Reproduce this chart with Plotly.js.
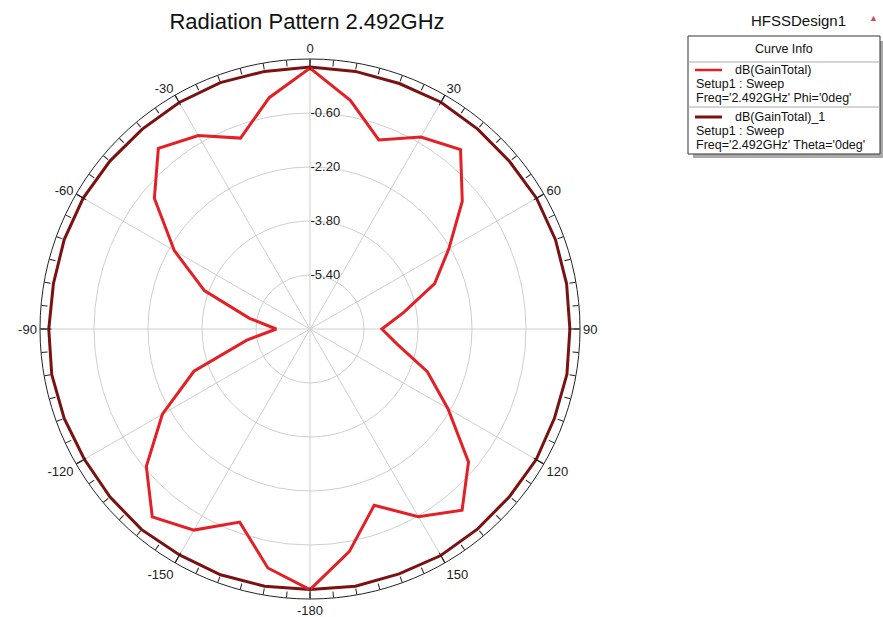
<!DOCTYPE html>
<html>
<head>
<meta charset="utf-8">
<script src="https://cdn.plot.ly/plotly-3.0.1.min.js"></script>
<style>
  html, body { margin: 0; padding: 0; background: #ffffff; }
  #chart { width: 883px; height: 617px; }
</style>
</head>
<body>
<div id="chart"></div>
<script>
// ---- data ----
const thetaDeg = [-180,-170,-160,-150,-140,-130,-120,-110,-100,-90,-80,-70,-60,-50,-40,-30,-20,-10,
                  0,10,20,30,40,50,60,70,80,90,100,110,120,130,140,150,160,170,180];
// dB(GainTotal), Phi = 0deg
const gainPhi0 = [0.72,0.19,-0.91,-0.12,0.27,-0.67,-1.95,-3.34,-5.10,-6.00,-5.18,-3.67,-2.36,-0.98,-0.01,-0.38,-0.98,-0.04,
                  0.73,-0.12,-1.04,-0.43,-0.06,-1.11,-2.25,-3.07,-4.18,-4.87,-4.37,-3.30,-2.28,-0.87,0.01,-0.58,-1.44,-0.30,0.72];
// dB(GainTotal)_1, Theta = 0deg
const gainTheta0 = [0.72,0.74,0.75,0.73,0.76,0.74,0.72,0.75,0.77,0.74,0.72,0.75,0.76,0.74,0.73,0.75,0.77,0.75,
                    0.76,0.75,0.74,0.76,0.73,0.72,0.75,0.74,0.72,0.70,0.73,0.71,0.74,0.72,0.73,0.75,0.72,0.74,0.72];
const angTickVals = [0,30,60,90,120,150,180,210,240,270,300,330];
const angTickText = ['0','30','60','90','120','150','-180','-150','-120','-90','-60','-30'];
const radTickVals = [-5.4,-3.8,-2.2,-0.6];
const radTickText = ['-5.40','-3.80','-2.20','-0.60'];
const radRange = [-7, 1];
const minorTickVals = [];
for (let a = 0; a < 360; a += 5) minorTickVals.push(a);

const W = 883, H = 617;
const px = x => x / W;
const py = y => 1 - y / H;
const FONT = 'Liberation Sans, Arial, sans-serif';

const RED = 'rgb(226,32,38)';
const DARK = 'rgb(122,18,18)';

const traces = [
  { type: 'scatterpolar', subplot: 'polar', mode: 'lines', name: 'dB(GainTotal)_1',
    r: gainTheta0, theta: thetaDeg, line: { color: DARK, width: 3 }, hoverinfo: 'skip' },
  { type: 'scatterpolar', subplot: 'polar', mode: 'lines', name: 'dB(GainTotal)',
    r: gainPhi0, theta: thetaDeg, line: { color: RED, width: 3 }, hoverinfo: 'skip' },
  { type: 'scatterpolar', subplot: 'polar2', mode: 'lines', r: [], theta: [],
    showlegend: false, hoverinfo: 'skip' }
];

const dom = { x: [px(40), px(580)], y: [py(599), py(59)] };

const LF = { family: FONT, size: 12.5, color: '#111' };
function legText(text, x, y, anchor) {
  return { text: text, xref: 'paper', yref: 'paper', x: px(x), y: py(y), xanchor: anchor || 'left',
           yanchor: 'middle', showarrow: false, font: LF };
}

const layout = {
  width: W, height: H,
  margin: { l: 0, r: 0, t: 0, b: 0 },
  paper_bgcolor: '#ffffff',
  showlegend: false,
  font: { family: FONT, size: 12, color: '#222' },
  title: { text: 'Radiation Pattern 2.492GHz', x: px(307), xanchor: 'center', y: py(21), yanchor: 'middle',
           font: { family: FONT, size: 22, color: '#111' } },
  polar: {
    domain: dom,
    bgcolor: 'rgba(0,0,0,0)',
    angularaxis: {
      rotation: 90, direction: 'clockwise',
      tickmode: 'array', tickvals: angTickVals, ticktext: angTickText,
      ticks: 'inside', ticklen: 11, tickcolor: '#222', tickwidth: 1,
      showline: true, linecolor: '#222', linewidth: 1,
      gridcolor: '#cfcfcf', gridwidth: 1,
      tickfont: { family: FONT, size: 13, color: '#222' }
    },
    radialaxis: {
      range: radRange, angle: 90, tickangle: 90, side: 'clockwise',
      tickmode: 'array', tickvals: radTickVals, ticktext: radTickText,
      showline: false, ticks: '', gridcolor: '#cfcfcf', gridwidth: 1,
      tickfont: { family: FONT, size: 13, color: '#222' }
    }
  },
  polar2: {
    domain: dom,
    bgcolor: 'rgba(0,0,0,0)',
    angularaxis: {
      rotation: 90, direction: 'clockwise',
      tickmode: 'array', tickvals: minorTickVals, showticklabels: false,
      ticks: 'inside', ticklen: 6, tickcolor: '#222', tickwidth: 1,
      showline: false, showgrid: false
    },
    radialaxis: { range: radRange, visible: false, showgrid: false }
  },
  shapes: [
    // legend shadow
    { type: 'rect', xref: 'paper', yref: 'paper', x0: px(693), x1: px(884), y0: py(41), y1: py(158),
      fillcolor: '#a9a9a9', line: { width: 0 } },
    // legend box
    { type: 'rect', xref: 'paper', yref: 'paper', x0: px(688), x1: px(880), y0: py(36), y1: py(154),
      fillcolor: '#ffffff', line: { color: '#333', width: 1 } },
    { type: 'line', xref: 'paper', yref: 'paper', x0: px(689), x1: px(879), y0: py(62), y1: py(62),
      line: { color: '#aaa', width: 1 } },
    { type: 'line', xref: 'paper', yref: 'paper', x0: px(689), x1: px(879), y0: py(107), y1: py(107),
      line: { color: '#aaa', width: 1 } },
    // legend samples
    { type: 'line', xref: 'paper', yref: 'paper', x0: px(695), x1: px(722), y0: py(70), y1: py(70),
      line: { color: RED, width: 2.5 } },
    { type: 'line', xref: 'paper', yref: 'paper', x0: px(695), x1: px(722), y0: py(117), y1: py(117),
      line: { color: DARK, width: 3 } }
  ],
  annotations: [
    { text: 'HFSSDesign1', xref: 'paper', yref: 'paper', x: px(798), y: py(20), xanchor: 'center', yanchor: 'middle',
      showarrow: false, font: { family: FONT, size: 15, color: '#111' } },
    { text: '▲', xref: 'paper', yref: 'paper', x: px(873), y: py(18), xanchor: 'center', yanchor: 'middle',
      showarrow: false, font: { family: FONT, size: 9, color: '#c0504d' } },
    legText('Curve Info', 784, 49, 'center'),
    legText('dB(GainTotal)', 733, 70),
    legText('Setup1 : Sweep', 694, 84),
    legText("Freq='2.492GHz' Phi='0deg'", 694, 98),
    legText('dB(GainTotal)_1', 733, 117),
    legText('Setup1 : Sweep', 694, 131),
    legText("Freq='2.492GHz' Theta='0deg'", 694, 145)
  ]
};

Plotly.newPlot('chart', traces, layout, { displayModeBar: false, staticPlot: true });
</script>
</body>
</html>
